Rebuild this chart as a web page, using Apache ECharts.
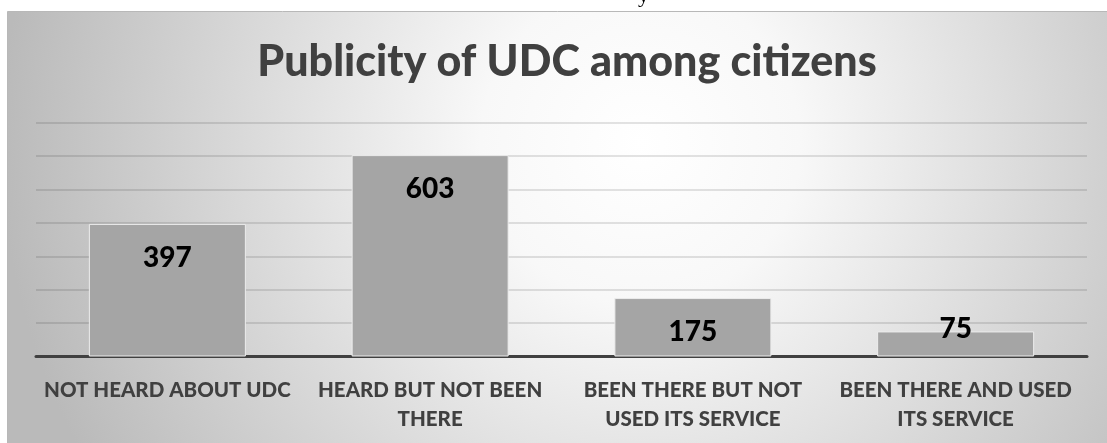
<!DOCTYPE html>
<html>
<head>
<meta charset="utf-8">
<script src="https://cdn.jsdelivr.net/npm/echarts@6/dist/echarts.min.js"></script>
<style>
html,body{margin:0;padding:0;background:#fff;}
#c{width:1107px;height:443px;}
</style>
</head>
<body>
<div id="c"></div>
<script>
const chartTitle = 'Publicity of UDC among citizens';
const categories = ['NOT HEARD ABOUT UDC', 'HEARD BUT NOT BEEN\nTHERE', 'BEEN THERE BUT NOT\nUSED ITS SERVICE', 'BEEN THERE AND USED\nITS SERVICE'];
const values = [397, 603, 175, 75];
const yMin = 0, yMax = 700, yStep = 100;

const chart = echarts.init(document.getElementById('c'), null, {renderer: 'canvas'});

const FONT = 'Lato';
const barData = values.map(function (v) {
  if (v < 120) {
    return {value: v, label: {position: 'insideBottom', distance: 14}};
  }
  return v;
});

chart.setOption({
  backgroundColor: '#ffffff',
  animation: false,
  title: {
    text: chartTitle,
    left: 562, top: 36,
    textAlign: 'center',
    textStyle: {fontFamily: FONT, fontWeight: 900, fontSize: 43, color: '#404040'}
  },
  graphic: [
    {
      type: 'rect', z: -10, silent: true,
      shape: {x: 7.5, y: 11.5, width: 1110, height: 440},
      style: {
        fill: {
          type: 'radial', x: 0.57, y: 0.3, r: 1.45,
          colorStops: [
            {offset: 0, color: '#ffffff'},
            {offset: 0.25, color: '#f8f8f8'},
            {offset: 1, color: '#bababa'}
          ]
        },
        stroke: '#b8b8b8', lineWidth: 1
      }
    },
    {
      type: 'text', z: 5, silent: true, left: 638, top: -15,
      style: {text: 'y', fontFamily: 'Liberation Serif', fontSize: 22, fill: '#000'}
    }
  ],
  grid: {left: 36, right: 20, top: 122.7, bottom: 86.5},
  xAxis: {
    type: 'category', data: categories,
    axisLine: {show: true, lineStyle: {color: '#404040', width: 3}},
    axisTick: {show: false},
    axisLabel: {
      margin: 19, interval: 0,
      fontFamily: FONT, fontWeight: 900, fontSize: 20.5, lineHeight: 29, color: '#404040'
    }
  },
  yAxis: {
    type: 'value', min: yMin, max: yMax, interval: yStep,
    axisLine: {show: false}, axisTick: {show: false}, axisLabel: {show: false},
    splitLine: {show: true, lineStyle: {color: 'rgba(0,0,0,0.15)', width: 1.5}}
  },
  series: [
    {
      type: 'bar',
      data: barData,
      barWidth: 157,
      itemStyle: {color: '#a5a5a5', borderColor: '#ececec', borderWidth: 1},
      label: {
        show: true, position: 'insideTop', distance: 20,
        fontFamily: FONT, fontWeight: 900, fontSize: 28, color: '#000'
      },
      z: 3
    }
  ]
});
</script>
</body>
</html>
